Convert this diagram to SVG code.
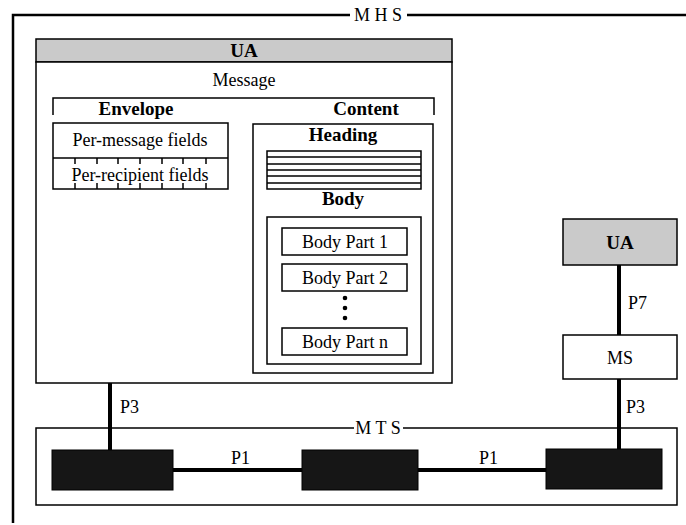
<svg xmlns="http://www.w3.org/2000/svg" width="686" height="525" viewBox="0 0 686 525">
<style>
.ln{fill:none;stroke:#000;stroke-width:1.5}
.box{fill:#fff;stroke:#000;stroke-width:1.5}
.gray{fill:#cacaca;stroke:#000;stroke-width:1.5}
.mta{fill:#161616;stroke:#000;stroke-width:1}
.t{font-family:"Liberation Serif","DejaVu Serif",serif;font-size:18px;fill:#000;text-anchor:middle}
.b{font-family:"Liberation Serif","DejaVu Serif",serif;font-size:19px;font-weight:bold;fill:#000;text-anchor:middle}
.lbl{font-family:"Liberation Serif","DejaVu Serif",serif;font-size:18px;fill:#000}
.conn{stroke:#000;stroke-width:4;fill:none}
</style>
<rect width="686" height="525" fill="#fff"/>
<g id="mhs">
<path d="M13,523 V15 H350 M407,15 H686" fill="none" stroke="#000" stroke-width="2.5"/>
<text class="t" x="378" y="21">M H S</text>
</g>
<g id="ua-left">
<rect class="gray" x="36" y="39" width="416" height="23"/>
<text class="b" x="244" y="57">UA</text>
</g>
<g id="message">
<rect class="box" x="36" y="62" width="416" height="321"/>
<text class="t" x="244" y="86">Message</text>
<path class="ln" d="M53,115 V98 H434 V115"/>
<text class="b" x="136" y="115">Envelope</text>
<text class="b" x="366" y="115">Content</text>
</g>
<g id="envelope">
<rect class="box" x="53" y="123" width="175" height="66"/>
<line class="ln" x1="53" y1="158" x2="228" y2="158"/>
<path class="ln" d="M75,158v6M97,158v6M118,158v6M140,158v6M162,158v6M183,158v6M206,158v6M75,189v-6M97,189v-6M118,189v-6M140,189v-6M162,189v-6M183,189v-6M206,189v-6"/>
<text class="t" x="140" y="146">Per-message fields</text>
<text class="t" x="140" y="181">Per-recipient fields</text>
</g>
<g id="content">
<rect class="box" x="253" y="124" width="180" height="249"/>
<text class="b" x="343" y="141">Heading</text>
<rect class="ln" x="267" y="151" width="154" height="38"/>
<path class="ln" d="M267,157H421M267,164H421M267,170H421M267,176H421M267,183H421"/>
<text class="b" x="343" y="205">Body</text>
<rect class="box" x="267" y="217" width="154" height="147"/>
</g>
<g id="body-part-1">
<rect class="box" x="282" y="228" width="125" height="27"/>
<text class="t" x="345" y="248">Body Part 1</text>
</g>
<g id="body-part-2">
<rect class="box" x="282" y="264" width="125" height="27"/>
<text class="t" x="345" y="284">Body Part 2</text>
</g>
<g id="dots">
<circle cx="345" cy="298" r="2.3"/>
<circle cx="345" cy="308" r="2.3"/>
<circle cx="345" cy="318" r="2.3"/>
</g>
<g id="body-part-n">
<rect class="box" x="282" y="328" width="125" height="27"/>
<text class="t" x="345" y="348">Body Part n</text>
</g>
<g id="connectors">
<line class="conn" x1="110" y1="383" x2="110" y2="450"/>
<line class="conn" x1="619" y1="265" x2="619" y2="335"/>
<line class="conn" x1="619" y1="379" x2="619" y2="449"/>
<line class="conn" x1="173" y1="470" x2="302" y2="470"/>
<line class="conn" x1="418" y1="470" x2="546" y2="470"/>
<text class="lbl" x="120" y="413">P3</text>
<text class="lbl" x="626" y="413">P3</text>
<text class="lbl" x="628" y="309">P7</text>
<text class="lbl" x="231" y="464">P1</text>
<text class="lbl" x="479" y="464">P1</text>
</g>
<g id="mts">
<path class="ln" d="M354,428 H36 V505 H677 V428 H403"/>
<text class="t" x="378" y="434">M T S</text>
</g>
<g id="mta-1"><rect class="mta" x="52" y="450" width="121" height="40"/></g>
<g id="mta-2"><rect class="mta" x="302" y="450" width="116" height="40"/></g>
<g id="mta-3"><rect class="mta" x="546" y="449" width="116" height="40"/></g>
<g id="ua-right">
<rect class="gray" x="563" y="219" width="114" height="46"/>
<text class="b" x="620" y="249">UA</text>
</g>
<g id="ms">
<rect class="box" x="563" y="335" width="114" height="44"/>
<text class="t" x="620" y="364">MS</text>
</g>
</svg>
